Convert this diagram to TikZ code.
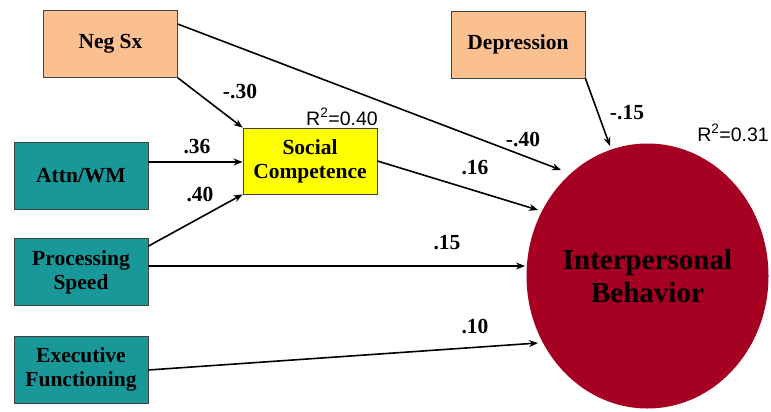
\documentclass[tikz,border=0pt]{standalone}
\usepackage{fontspec}
\setmainfont{Liberation Serif}
\newfontfamily\rfont{Liberation Sans}
\usetikzlibrary{shapes.geometric,arrows.meta}
\definecolor{peach}{RGB}{250,192,144}
\definecolor{tealbox}{RGB}{24,152,152}
\definecolor{yelbox}{RGB}{255,255,0}
\definecolor{wine}{RGB}{165,0,33}
\tikzset{
  varbox/.style={draw=black!75, line width=0.8pt, minimum width=134pt, inner sep=0pt,
    align=center, font=\fontsize{21.5}{24}\selectfont\bfseries},
  negbox/.style={varbox, fill=peach, minimum height=67pt},
  cogbox/.style={varbox, fill=tealbox, minimum height=67pt},
  path/.style={line width=1.6pt, -{Stealth[length=9pt,width=7pt]}},
  coef/.style={font=\fontsize{21.5}{23}\selectfont\bfseries, inner sep=0pt},
  rsq/.style={font=\rfont\fontsize{19.5}{21}\selectfont, inner sep=0pt}
}
\begin{document}
\begin{tikzpicture}[x=1pt,y=-1pt]
\useasboundingbox (0,0) rectangle (771,412);

% predictors
\node[negbox] (neg) at (110.5,44) {Neg Sx};
\node[negbox] (dep) at (518,44.5) {Depression};
\node[cogbox] (attn) at (81,175.5) {Attn/WM};
\node[cogbox] (proc) at (81,272) {Processing\\Speed};
\node[cogbox] (exec) at (81,369.5) {Executive\\Functioning};

% mediator and outcome
\node[varbox, fill=yelbox, minimum height=66pt] (soc) at (310,161) {Social\\Competence};
\node[ellipse, fill=wine, minimum width=242pt, minimum height=265pt, inner sep=0pt,
      align=center, font=\fontsize{29}{33}\selectfont\bfseries] (ib) at (647.5,276)
      {Interpersonal\\Behavior};

% endpoints of the paths into the outcome
\coordinate (ibnegin) at (561,170);
\coordinate (ibdepin) at (610,146);
\coordinate (ibsocin) at (538,210);
\coordinate (ibprocin) at (525,266);
\coordinate (ibexecin) at (538,343);

% paths
\draw[path] (neg.south east) -- (soc.north west);
\draw[path] ([yshift=-14pt]neg.north east) -- (ibnegin);
\draw[path] (dep.south east) -- (ibdepin);
\draw[path] (attn.east |- 0,162) -- (soc.west |- 0,162);
\draw[path] ([yshift=-8pt]proc.north east) -- (soc.south west);
\draw[path] (soc.east) -- (ibsocin);
\draw[path] (proc.east |- 0,266) -- (ibprocin);
\draw[path] (exec.east |- 0,370) -- (ibexecin);

% coefficients
\node[coef] (c1) at (240,92) {-.30};
\node[coef] (c2) at (197,147) {.36};
\node[coef] (c3) at (200,195) {.40};
\node[coef] (c4) at (523,140) {-.40};
\node[coef] (c5) at (475,168) {.16};
\node[coef] (c6) at (627,113) {-.15};
\node[coef] (c7) at (447,243) {.15};
\node[coef] (c8) at (475,327) {.10};

% explained variance
\node[rsq] (r1) at (342,117) {R\textsuperscript{2}=0.40};
\node[rsq] (r2) at (733,133) {R\textsuperscript{2}=0.31};
\end{tikzpicture}
\end{document}
